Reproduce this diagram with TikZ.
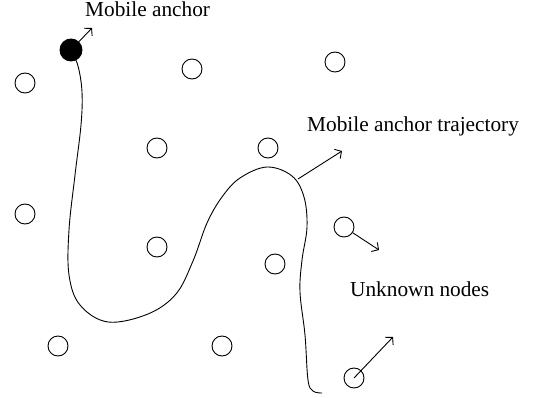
\documentclass[tikz,border=0pt]{standalone}
\usepackage{fontspec}
\setmainfont{Liberation Serif}
\usetikzlibrary{arrows.meta}
\begin{document}
\begin{tikzpicture}[x=1pt,y=-1pt,
  unode/.style={circle,draw,line width=0.9pt,minimum size=20pt,inner sep=0pt},
  anode/.style={circle,fill=black,draw,line width=0.9pt,minimum size=22pt,inner sep=0pt},
  lbl/.style={anchor=base west,inner sep=0pt,font=\fontsize{21.3}{25}\selectfont},
  ptr/.style={line width=0.9pt,-{Straight Barb[length=5pt,width=11pt,line width=0.9pt]}},
  traj/.style={line width=0.9pt}]
\useasboundingbox (0,0) rectangle (533,398);
% unknown nodes
\node[unode] (u1) at (25,83) {};
\node[unode] (u2) at (192,69) {};
\node[unode] (u3) at (335,62) {};
\node[unode] (u4) at (157,148) {};
\node[unode] (u5) at (268,148) {};
\node[unode] (u6) at (25,214) {};
\node[unode] (u7) at (157,247) {};
\node[unode] (u8) at (275,264) {};
\node[unode] (u9) at (344,227) {};
\node[unode] (u10) at (58,346) {};
\node[unode] (u11) at (222,346) {};
\node[unode] (u12) at (354,378) {};
% mobile anchor
\node[anode] (ma) at (71,50) {};
% labels
\node[lbl] (lma) at (85,17) {Mobile anchor};
\node[lbl] (ltr) at (307,132) {Mobile anchor trajectory};
\node[lbl] (lun) at (350,297) {Unknown nodes};
% trajectory
\draw[traj] plot[smooth,tension=0.6] coordinates {
  (71,50) (78,66) (82,92) (81,125) (75,175) (69,230) (69,275) (80,305)
  (108,322) (148,314) (176,294) (193,261) (207,223) (222,197) (240,178)
  (267,167) (292,176) (304,197) (307,227) (302,260) (300,292) (305,335)
  (308,380) (313,391) (322,393)};
% pointers
\coordinate (e1) at (92,28);
\draw[ptr] (ma) -- (e1);
\coordinate (t1) at (298,179);
\coordinate (e2) at (342,151);
\draw[ptr] (t1) -- (e2);
\coordinate (e3) at (379,250);
\draw[ptr] (u9) -- (e3);
\coordinate (e4) at (393,337);
\draw[ptr] (u12.center) -- (e4);
\end{tikzpicture}
\end{document}
